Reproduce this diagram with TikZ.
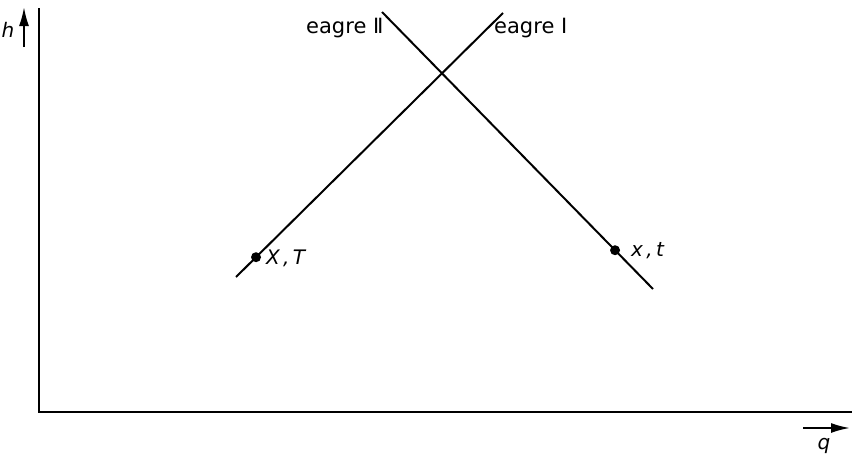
\documentclass[tikz,border=0pt]{standalone}
\usepackage{fontspec}
\setmainfont{DejaVu Sans}
\usetikzlibrary{arrows.meta}
\tikzset{
  ln/.style={line width=2pt},
  axarrow/.style={line width=2pt,-{Latex[length=19pt,width=10pt]}},
  lbl/.style={font=\fontsize{21}{24}\selectfont,inner sep=0pt},
  ilbl/.style={font=\fontsize{20}{24}\selectfont\itshape,inner sep=0pt},
  dot/.style={circle,fill=black,inner sep=0pt,minimum size=10pt}
}
\begin{document}
\begin{tikzpicture}[x=1pt,y=-1pt]
\useasboundingbox (0,0) rectangle (852,455);
% axes
\coordinate (ytop) at (39,8);
\coordinate (origin) at (39,412);
\coordinate (xend) at (852,412);
\draw[ln] (ytop) -- (origin) -- (xend);
% axis arrows
\coordinate (ha) at (24,47);
\coordinate (hb) at (24,7);
\draw[axarrow] (ha) -- (hb);
\node[ilbl,anchor=base] (hl) at (8,37) {h};
\coordinate (qa) at (803,428);
\coordinate (qb) at (850,428);
\draw[axarrow] (qa) -- (qb);
\node[ilbl,anchor=base] (ql) at (824,449) {q};
% eagre lines
\coordinate (r1) at (236,277);
\coordinate (r2) at (503,13);
\coordinate (f1) at (382,12);
\coordinate (f2) at (653,289);
\draw[ln] (r1) -- (r2);
\draw[ln] (f1) -- (f2);
\path (r1) -- (r2) node[dot,pos=0.075] (XT) {};
\path (f1) -- (f2) node[dot,pos=0.86] (xt) {};
\node[ilbl,anchor=west] (XTl) at (266,258) {X\,,\,T};
\node[ilbl,anchor=west] (xtl) at (631,251) {x\,,\,t};
\node[lbl,anchor=base west] (e2) at (306,33) {eagre Ⅱ};
\node[lbl,anchor=base west] (e1) at (494,33) {eagre Ⅰ};
\end{tikzpicture}
\end{document}
